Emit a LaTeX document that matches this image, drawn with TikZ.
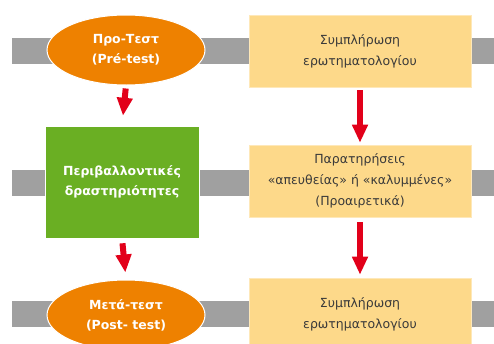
\documentclass[tikz,border=0pt]{standalone}
\usepackage{fontspec}
\setmainfont{DejaVu Sans}
\usetikzlibrary{shapes.geometric, arrows.meta, positioning}
\definecolor{testorange}{HTML}{EE8100}
\definecolor{actgreen}{HTML}{6AAF23}
\definecolor{qyellow}{HTML}{FDD98A}
\definecolor{bargray}{HTML}{A0A0A0}
\definecolor{arrowred}{HTML}{E2001A}
\definecolor{textdark}{HTML}{3A3A3A}
\tikzset{
    testnode/.style={ellipse, draw=white, line width=1pt, fill=testorange, text=white, font=\fontsize{12.5}{20}\selectfont\bfseries, align=center, minimum width=158pt, minimum height=70pt, inner sep=0pt},
    actbox/.style={rectangle, draw=white, line width=0.6pt, fill=actgreen, text=white, font=\fontsize{12.5}{20}\selectfont\bfseries, align=center, minimum width=154pt, minimum height=112pt, inner sep=0pt},
    qbox/.style={rectangle, draw=qyellow!60!white, line width=0.6pt, fill=qyellow, text=textdark, font=\fontsize{12.5}{21}\selectfont, align=center, minimum width=222pt, minimum height=72pt, inner sep=0pt},
    redarrow/.style={-{Triangle[width=15pt,length=18pt]}, line width=6pt, draw=arrowred}
}
\begin{document}
\begin{tikzpicture}[x=1pt, y=-1pt]
        \useasboundingbox (0,0) rectangle (494,343);
        % grey bands behind each row
        \foreach \y in {51,182.5,314}
            \fill [bargray] (12,\y-13) rectangle (494,\y+13);
        \node [testnode] (pre) at (126,50) {Προ-Τεστ\\(Pré-test)};
        \node [actbox] (act) at (122,182) {Περιβαλλοντικές\\δραστηριότητες};
        \node [testnode] (post) at (126,315) {Μετά-τεστ\\(Post- test)};
        \node [qbox] (qpre) at (360,51) {Συμπλήρωση\\ερωτηματολογίου};
        \node [qbox] (obs) at (360,181) {Παρατηρήσεις\\«απευθείας» ή «καλυμμένες»\\(Προαιρετικά)};
        \node [qbox] (qpost) at (360,314) {Συμπλήρωση\\ερωτηματολογίου};
        \draw [redarrow, shorten <=3pt, shorten >=10pt] (pre.south) -- (act.north);
        \draw [redarrow, shorten <=5pt, shorten >=7pt] (act.south) -- (post.north);
        \draw [redarrow, shorten <=3pt, shorten >=2pt] (qpre.south) -- (obs.north);
        \draw [redarrow, shorten <=5pt, shorten >=3pt] (obs.south) -- (qpost.north);
    \end{tikzpicture}
\end{document}
